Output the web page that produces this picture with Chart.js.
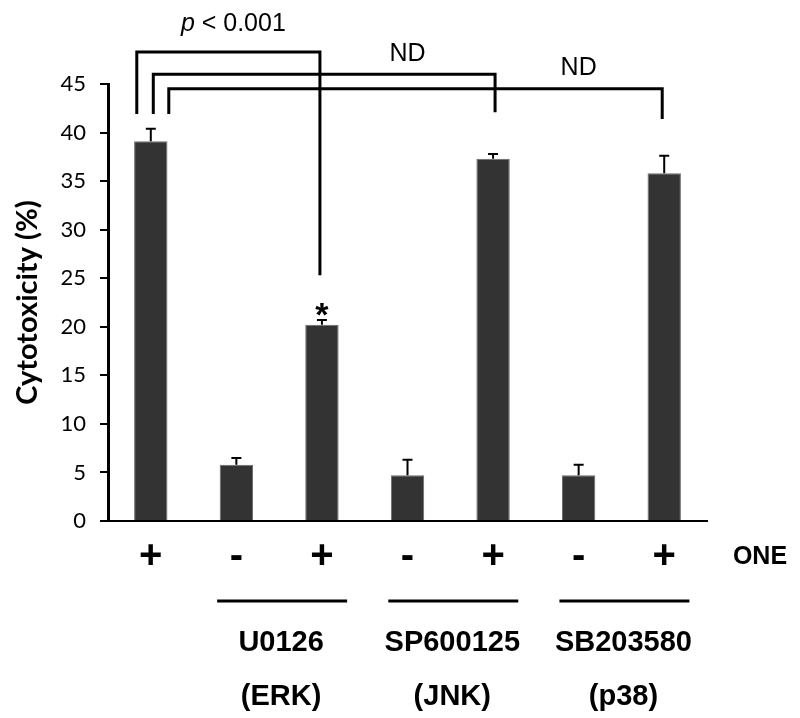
<!DOCTYPE html>
<html>
<head>
<meta charset="utf-8">
<script src="https://cdn.jsdelivr.net/npm/chart.js@4/dist/chart.umd.min.js"></script>
<style>
  html, body { margin: 0; padding: 0; background: #fff; }
  #wrap { width: 800px; height: 718px; }
</style>
</head>
<body>
<div id="wrap"><canvas id="cytoChart" width="800" height="718"></canvas></div>
<script>
// data
const oneTreatment = ['+', '-', '+', '-', '+', '-', '+'];
const cytotoxicity = [39.1, 5.8, 20.2, 4.7, 37.3, 4.7, 35.8];
const sem = [1.3, 0.7, 0.5, 1.6, 0.5, 1.1, 1.8];
const inhibitors = ['U0126', 'SP600125', 'SB203580'];
const kinases = ['(ERK)', '(JNK)', '(p38)'];
const yMax = 45;
const yStep = 5;

// comparison brackets: from bar / to bar, height of bar (in %) and where the legs stop
const brackets = [
  { from: 0, to: 2, top: 48.3, fromOff: -14, toOff: -2, legFrom: 41.9, legTo: 25.3 },
  { from: 0, to: 4, top: 46.0, fromOff: 2.5, toOff: 2, legFrom: 41.9, legTo: 42.1 },
  { from: 0, to: 6, top: 44.5, fromOff: 18, toOff: -2, legFrom: 41.9, legTo: 41.4 }
];

const annotPlugin = {
  id: 'annot',
  afterDatasetsDraw(chart) {
    const ctx = chart.ctx;
    const x = chart.scales.x;
    const y = chart.scales.y;
    const area = chart.chartArea;
    ctx.save();

    // error bars (upper only)
    ctx.strokeStyle = '#000';
    ctx.lineWidth = 2;
    cytotoxicity.forEach((v, i) => {
      const cx = x.getPixelForValue(i);
      const y0 = y.getPixelForValue(v);
      const y1 = y.getPixelForValue(v + sem[i]);
      ctx.beginPath();
      ctx.moveTo(cx, y0);
      ctx.lineTo(cx, y1);
      ctx.moveTo(cx - 5, y1);
      ctx.lineTo(cx + 5, y1);
      ctx.stroke();
    });

    // brackets
    ctx.lineWidth = 3;
    brackets.forEach(b => {
      const x0 = x.getPixelForValue(b.from) + b.fromOff;
      const x1 = x.getPixelForValue(b.to) + b.toOff;
      const yt = y.getPixelForValue(b.top);
      ctx.beginPath();
      ctx.moveTo(x0, y.getPixelForValue(b.legFrom));
      ctx.lineTo(x0, yt);
      ctx.lineTo(x1, yt);
      ctx.lineTo(x1, y.getPixelForValue(b.legTo));
      ctx.stroke();
    });

    // significance labels
    ctx.fillStyle = '#000';
    ctx.textAlign = 'center';
    ctx.textBaseline = 'middle';
    ctx.font = '25px "Liberation Sans", Arial, sans-serif';
    ctx.fillText('ND', x.getPixelForValue(3), y.getPixelForValue(48.1));
    ctx.fillText('ND', x.getPixelForValue(5), y.getPixelForValue(46.65));

    // p < 0.001 with italic p
    const pX = (x.getPixelForValue(0) + x.getPixelForValue(2)) / 2 - 3;
    const pY = y.getPixelForValue(51.2);
    ctx.textAlign = 'left';
    ctx.font = 'italic 25px "Liberation Sans", Arial, sans-serif';
    const wP = ctx.measureText('p').width;
    ctx.font = '25px "Liberation Sans", Arial, sans-serif';
    const rest = ' < 0.001';
    const wR = ctx.measureText(rest).width;
    const start = pX - (wP + wR) / 2;
    ctx.font = 'italic 25px "Liberation Sans", Arial, sans-serif';
    ctx.fillText('p', start, pY);
    ctx.font = '25px "Liberation Sans", Arial, sans-serif';
    ctx.fillText(rest, start + wP, pY);

    // asterisk over U0126 + ONE
    ctx.textAlign = 'center';
    ctx.textBaseline = 'alphabetic';
    ctx.font = 'bold 34px "Liberation Sans", Arial, sans-serif';
    ctx.fillText('*', x.getPixelForValue(2), y.getPixelForValue(cytotoxicity[2] + sem[2]) + 6);

    // treatment legend under the axis
    ctx.textBaseline = 'middle';
    ctx.font = 'bold 25px "Liberation Sans", Arial, sans-serif';
    ctx.fillText('ONE', area.right + 53, area.bottom + 36);

    ctx.lineWidth = 3;
    inhibitors.forEach((name, k) => {
      const i = 1 + k * 2;
      const mid = (x.getPixelForValue(i) + x.getPixelForValue(i + 1)) / 2;
      ctx.beginPath();
      ctx.moveTo(mid - 62, area.bottom + 80);
      ctx.lineTo(mid + 68, area.bottom + 80);
      ctx.stroke();
      ctx.font = 'bold 29px "Liberation Sans", Arial, sans-serif';
      ctx.fillText(name, mid + 2, area.bottom + 122);
      ctx.fillText(kinases[k], mid + 2, area.bottom + 176);
    });

    ctx.restore();
  }
};

const config = {
  type: 'bar',
  data: {
    labels: oneTreatment,
    datasets: [{
      data: cytotoxicity,
      backgroundColor: '#333333',
      borderColor: '#6a6a6a',
      borderWidth: 1,
      categoryPercentage: 1,
      barPercentage: 0.39
    }]
  },
  options: {
    responsive: false,
    animation: false,
    layout: { padding: { left: 0, right: 93, top: 84, bottom: 0 } },
    plugins: {
      legend: { display: false },
      tooltip: { enabled: false }
    },
    scales: {
      x: {
        grid: { display: false },
        border: { display: true, color: '#000', width: 2 },
        ticks: {
          color: '#000',
          padding: 4,
          font: { family: '"Liberation Sans", Arial, sans-serif', size: 40, weight: 'bold' }
        },
        afterFit(axis) { axis.height = 197; }
      },
      y: {
        min: 0,
        max: yMax,
        grid: { drawOnChartArea: false, tickLength: 8, color: '#000', lineWidth: 2 },
        border: { display: true, color: '#000', width: 3 },
        ticks: {
          stepSize: yStep,
          color: '#000',
          padding: 14,
          font: { family: 'Lato, "Open Sans", sans-serif', size: 22 }
        },
        title: {
          display: true,
          text: 'Cytotoxicity (%)',
          color: '#000',
          padding: { top: 10, bottom: 0 },
          font: { family: 'Lato, "Open Sans", sans-serif', size: 29, weight: 'bold' }
        },
        afterFit(axis) { axis.width = 108; }
      }
    }
  },
  plugins: [annotPlugin]
};

const ctx = document.getElementById('cytoChart').getContext('2d');
new Chart(ctx, config);
</script>
</body>
</html>
